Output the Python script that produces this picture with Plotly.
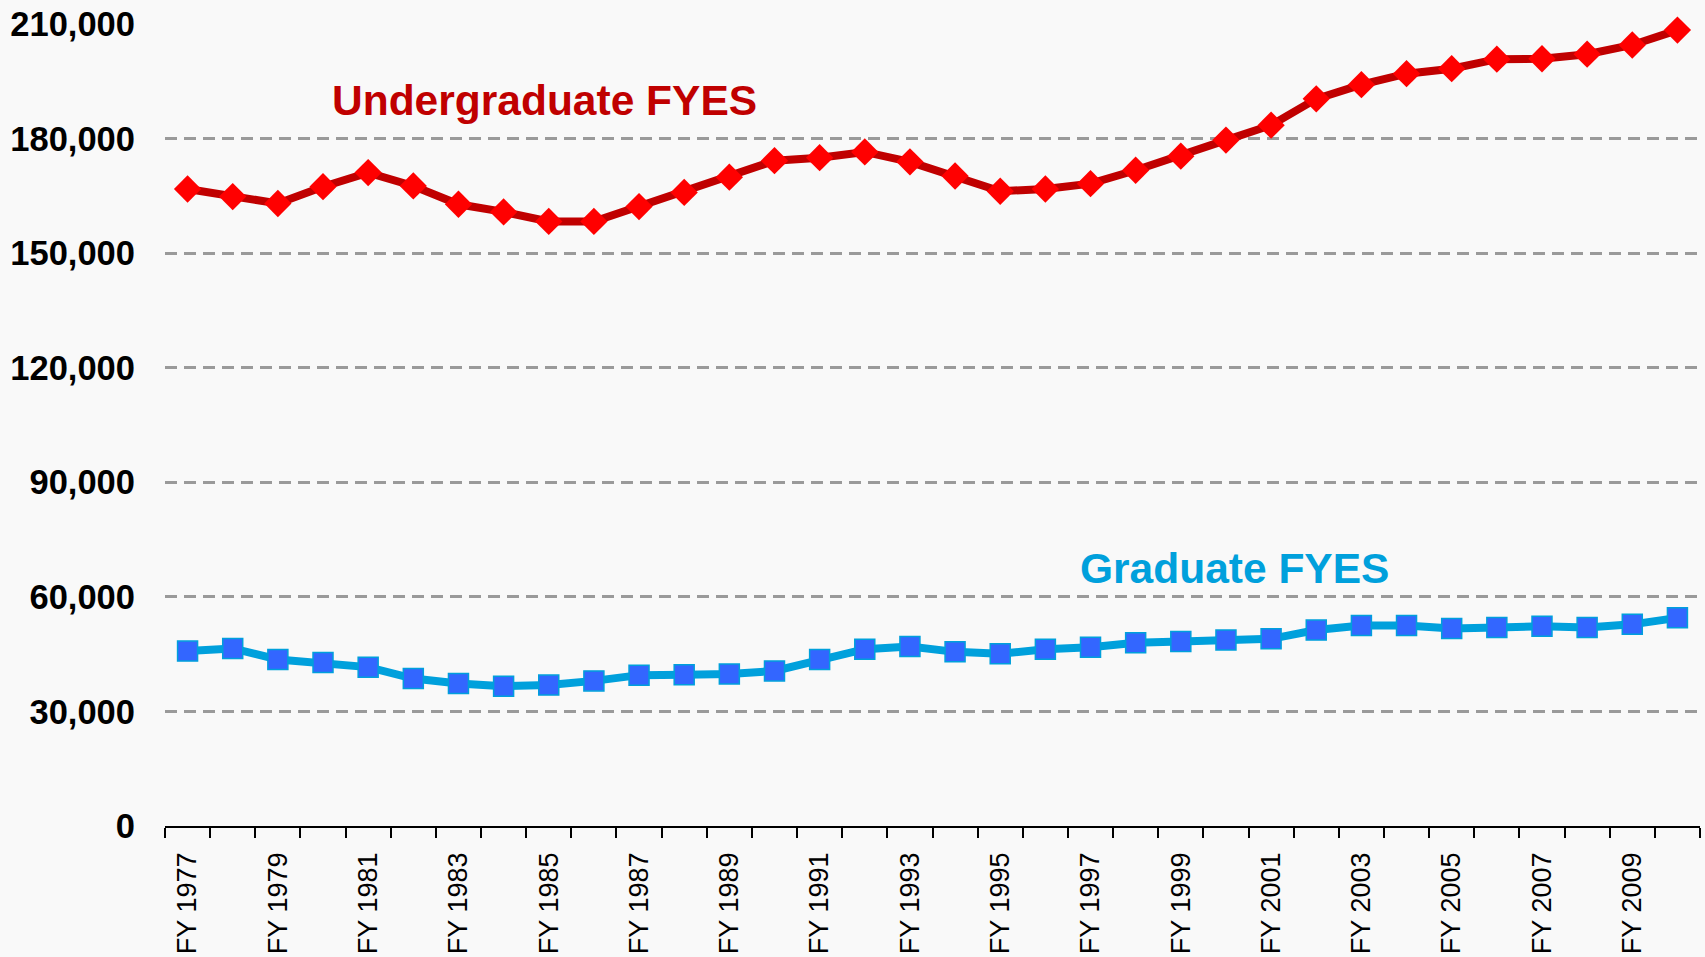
import plotly.graph_objects as go

years = list(range(1977, 2011))
categories = [f"FY {y}" for y in years]

undergrad = [166800, 164800, 163000, 167400, 171100, 167600, 162800, 160800, 158300, 158300,
             162200, 165900, 169900, 174200, 175000, 176500, 173900, 170200, 166200, 166800,
             168200, 171700, 175400, 179600, 183500, 190400, 194100, 197000, 198300, 200800,
             200900, 202100, 204500, 208400]

graduate = [45800, 46500, 43600, 42800, 41600, 38600, 37300, 36600, 36900, 38000,
            39500, 39600, 39800, 40600, 43600, 46300, 47000, 45600, 45100, 46300,
            46800, 48000, 48300, 48700, 49000, 51300, 52500, 52500, 51700, 52000,
            52300, 52000, 52800, 54500]

tick_text = [c if i % 2 == 0 else "" for i, c in enumerate(categories)]
y_ticks = [0, 30000, 60000, 90000, 120000, 150000, 180000, 210000]
y_tick_text = ["0", "30,000", "60,000", "90,000", "120,000", "150,000", "180,000", "210,000"]

fig = go.Figure()
fig.add_trace(go.Scatter(
    x=categories, y=undergrad, mode="lines+markers", name="Undergraduate FYES",
    line=dict(color="#C00000", width=8),
    marker=dict(symbol="diamond", size=21, color="#FF0000", line=dict(width=0)),
    cliponaxis=False,
))
fig.add_trace(go.Scatter(
    x=categories, y=graduate, mode="lines+markers", name="Graduate FYES",
    line=dict(color="#00A0DC", width=8),
    marker=dict(symbol="square", size=20, color="#3366FF", line=dict(color="#00A0DC", width=1.5)),
    cliponaxis=False,
))

fig.add_annotation(x=7.9, y=190000, xref="x", yref="y", text="<b>Undergraduate FYES</b>",
                   showarrow=False, font=dict(family="Liberation Sans, Arial", size=42.5, color="#C00000"))
fig.add_annotation(x=23.2, y=67300, xref="x", yref="y", text="<b>Graduate FYES</b>",
                   showarrow=False, font=dict(family="Liberation Sans, Arial", size=42.5, color="#00A0DC"))

fig.update_layout(
    width=1705, height=957,
    margin=dict(l=165, r=5, t=24, b=131),
    paper_bgcolor="#F9F9F9", plot_bgcolor="#F9F9F9",
    showlegend=False,
    font=dict(family="Liberation Sans, Arial", color="black"),
)
fig.update_xaxes(
    type="category", range=[-0.5, len(categories) - 0.5], automargin=False,
    tickmode="array", tickvals=categories, ticktext=tick_text,
    tickangle=-90, tickson="boundaries", ticks="outside", ticklen=10, tickwidth=1.5, tickcolor="black",
    showline=True, linecolor="black", linewidth=1.5, showgrid=False,
    ticklabelstandoff=14,
    tickfont=dict(size=27, color="black"),
)
fig.update_yaxes(
    range=[0, 210000], tickmode="array", tickvals=y_ticks, ticktext=y_tick_text, automargin=False,
    showgrid=True, gridcolor="#9A9A9A", gridwidth=2.5, griddash="12px,7px",
    zeroline=False, showline=False, ticks="", ticklabelstandoff=29,
    tickfont=dict(size=34.5, color="black", family="Liberation Sans, Arial", weight="bold"),
)

fig.write_html("out.html", config={"displayModeBar": False},
               post_script="document.body.style.margin='0';document.body.style.overflow='hidden';")
